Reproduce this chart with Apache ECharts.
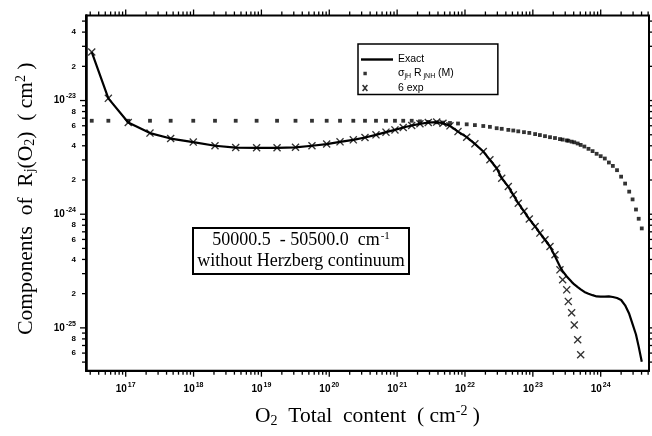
<!DOCTYPE html>
<html>
<head>
<meta charset="utf-8">
<script src="https://cdn.jsdelivr.net/npm/echarts@6/dist/echarts.min.js"></script>
<style>
  html, body { margin: 0; padding: 0; background: #fff; }
  #chart { width: 652px; height: 436px; }
</style>
</head>
<body>
<div id="chart"></div>
<script>
// O2 total column content (cm^-2) shared by the three curves
const columnDensity = [
  3.16e16, 5.55e16, 1.09e17, 2.28e17, 4.60e17, 9.90e17, 2.07e18, 4.18e18, 8.50e18, 1.70e19,
  3.18e19, 5.56e19, 9.16e19, 1.44e20, 2.26e20, 3.36e20, 4.88e20, 6.85e20, 9.29e20, 1.23e21,
  1.64e21, 2.17e21, 2.88e21, 3.83e21, 4.74e21, 6.01e21, 7.89e21, 1.06e22, 1.40e22, 1.86e22,
  2.33e22, 2.93e22, 3.48e22, 4.35e22, 5.15e22, 6.10e22, 7.40e22, 8.87e22, 1.08e23, 1.27e23,
  1.51e23, 1.79e23, 2.12e23, 2.51e23, 2.75e23, 3.16e23, 3.33e23, 3.73e23, 4.08e23, 4.58e23,
  5.07e23, 5.75e23, 6.61e23, 7.59e23, 8.71e23, 1.00e24, 1.15e24, 1.32e24, 1.51e24, 1.74e24,
  2.00e24, 2.29e24, 2.63e24, 2.95e24, 3.31e24, 3.63e24, 4.03e24
];

// Exact R_j(O2) component (cm^2)
const exactValues = [
  2.67e-23, 1.045e-23, 6.41e-24, 5.17e-24, 4.63e-24, 4.31e-24, 4.00e-24, 3.86e-24, 3.84e-24, 3.84e-24,
  3.88e-24, 4.00e-24, 4.14e-24, 4.33e-24, 4.51e-24, 4.73e-24, 4.99e-24, 5.27e-24, 5.52e-24, 5.79e-24,
  6.03e-24, 6.24e-24, 6.41e-24, 6.46e-24, 6.31e-24, 5.99e-24, 5.33e-24, 4.76e-24, 4.16e-24, 3.56e-24,
  3.01e-24, 2.54e-24, 2.07e-24, 1.75e-24, 1.48e-24, 1.25e-24, 1.06e-24, 9.06e-25, 7.80e-25, 6.82e-25,
  5.96e-25, 5.20e-25, 4.27e-25, 3.47e-25, 3.16e-25, 2.83e-25, 2.72e-25, 2.54e-25, 2.41e-25, 2.28e-25,
  2.18e-25, 2.07e-25, 2.00e-25, 1.94e-25, 1.89e-25, 1.88e-25, 1.88e-25, 1.89e-25, 1.87e-25, 1.83e-25,
  1.76e-25, 1.58e-25, 1.33e-25, 1.08e-25, 8.75e-26, 6.84e-26, 5.04e-26
];

// sigma_jH * R_jNH (M) approximation
const sigmaRValues = [
  6.64e-24, 6.64e-24, 6.64e-24, 6.64e-24, 6.64e-24, 6.64e-24, 6.64e-24, 6.64e-24, 6.64e-24, 6.64e-24,
  6.64e-24, 6.64e-24, 6.64e-24, 6.64e-24, 6.64e-24, 6.64e-24, 6.64e-24, 6.64e-24, 6.64e-24, 6.64e-24,
  6.64e-24, 6.56e-24, 6.49e-24, 6.44e-24, 6.40e-24, 6.35e-24, 6.28e-24, 6.18e-24, 6.08e-24, 5.97e-24,
  5.87e-24, 5.71e-24, 5.64e-24, 5.52e-24, 5.45e-24, 5.36e-24, 5.27e-24, 5.19e-24, 5.07e-24, 4.97e-24,
  4.86e-24, 4.76e-24, 4.68e-24, 4.58e-24, 4.53e-24, 4.46e-24, 4.43e-24, 4.35e-24, 4.29e-24, 4.19e-24,
  4.07e-24, 3.94e-24, 3.76e-24, 3.59e-24, 3.40e-24, 3.24e-24, 3.09e-24, 2.85e-24, 2.66e-24, 2.44e-24,
  2.14e-24, 1.86e-24, 1.58e-24, 1.35e-24, 1.10e-24, 9.12e-25, 7.50e-25
];

// Six-term exponential fit
const sixExpValues = [
  2.67e-23, 1.045e-23, 6.41e-24, 5.17e-24, 4.63e-24, 4.31e-24, 4.00e-24, 3.86e-24, 3.84e-24, 3.84e-24,
  3.88e-24, 4.00e-24, 4.14e-24, 4.33e-24, 4.51e-24, 4.73e-24, 4.99e-24, 5.27e-24, 5.52e-24, 5.79e-24,
  6.03e-24, 6.24e-24, 6.41e-24, 6.46e-24, 6.31e-24, 5.99e-24, 5.33e-24, 4.76e-24, 4.16e-24, 3.56e-24,
  3.01e-24, 2.54e-24, 2.07e-24, 1.75e-24, 1.48e-24, 1.25e-24, 1.06e-24, 9.06e-25, 7.80e-25, 6.82e-25,
  5.96e-25, 5.20e-25, 4.40e-25, 3.24e-25, 2.65e-25, 2.16e-25, 1.71e-25, 1.36e-25, 1.06e-25, 7.86e-26,
  5.80e-26, null, null, null, null, null, null, null, null, null,
  null, null, null, null, null, null, null
];

// Axis ranges and tick layout (decades and the labelled sub-decade multiples)
const xRange = [2.6e16, 5.15e24];
const yRange = [4.2e-26, 5.6e-23];
const xDecades = [16, 17, 18, 19, 20, 21, 22, 23, 24];
const yDecades = [-26, -25, -24, -23];
const tickMultiples = [1, 2, 3, 4, 5, 6, 7, 8, 9];
const yLabelledMultiples = [2, 4, 6, 8];

const SERIF = '"Liberation Serif", "Times New Roman", serif';
const SANS = '"Liberation Sans", Arial, sans-serif';
const SIGMA_NAME = 'σjH RjNH (M)';

// Tick records: [x, y, axis (0 = x, 1 = y), length, label digit]
const tickData = [];
xDecades.forEach(d => tickMultiples.forEach(m => {
  const v = m * Math.pow(10, d);
  if (v >= xRange[0] && v <= xRange[1]) tickData.push([v, yRange[0], 0, m === 1 ? 6 : 4, 0]);
}));
yDecades.forEach(d => tickMultiples.forEach(m => {
  const v = m * Math.pow(10, d);
  if (v >= yRange[0] && v <= yRange[1]) {
    tickData.push([xRange[0], v, 1, m === 1 ? 6 : 4, yLabelledMultiples.indexOf(m) >= 0 ? m : 0]);
  }
}));

function isPowerOfTen(v) {
  const l = Math.log10(v);
  return Math.abs(l - Math.round(l)) < 1e-6;
}
function powerLabel(v) {
  if (!isPowerOfTen(v)) return '';
  return '{b|10}{e|' + Math.round(Math.log10(v)) + '}';
}

const tickLabelRich = {
  b: { fontFamily: SANS, fontWeight: 'bold', fontSize: 10, color: '#000' },
  e: { fontFamily: SANS, fontWeight: 'bold', fontSize: 7, color: '#000', padding: [0, 0, 8, 1] }
};

const titleRich = {
  t: { fontFamily: SERIF, fontSize: 21.5, color: '#000' },
  s: { fontFamily: SERIF, fontSize: 14, color: '#000', padding: [9, 0, 0, 0] },
  p: { fontFamily: SERIF, fontSize: 14, color: '#000', padding: [0, 0, 10, 0] }
};

const crossPath = 'path://M0,1.2L1.2,0L5,3.8L8.8,0L10,1.2L6.2,5L10,8.8L8.8,10L5,6.2L1.2,10L0,8.8L3.8,5Z';

const chart = echarts.init(document.getElementById('chart'));

chart.setOption({
  animation: false,
  backgroundColor: '#fff',
  grid: {
    left: 86, top: 15.5, right: 3, bottom: 65.3,
    show: true, borderColor: '#000', borderWidth: 2, backgroundColor: 'transparent'
  },
  xAxis: {
    type: 'log',
    logBase: 10,
    min: xRange[0],
    max: xRange[1],
    splitLine: { show: false },
    axisTick: { show: false },
    axisLine: { show: true, lineStyle: { color: '#000', width: 2 } },
    axisLabel: { margin: 11, formatter: powerLabel, rich: tickLabelRich, showMinLabel: false, showMaxLabel: false },
    name: '{t|O}{s|2}{t|  Total  content  ( cm}{p|-2}{t| )}',
    nameLocation: 'middle',
    nameGap: 34,
    nameTextStyle: { rich: titleRich }
  },
  yAxis: {
    type: 'log',
    logBase: 10,
    min: yRange[0],
    max: yRange[1],
    splitLine: { show: false },
    axisTick: { show: false },
    axisLine: { show: true, lineStyle: { color: '#000', width: 2.5 } },
    axisLabel: { margin: 10, formatter: powerLabel, rich: tickLabelRich, showMinLabel: false, showMaxLabel: false },
    name: '{t|Components  of  R}{s|j}{t|(O}{s|2}{t|)  ( cm}{p|2}{t| )}',
    nameLocation: 'middle',
    nameGap: 48,
    nameTextStyle: { padding: [0, 11, 0, 0], rich: titleRich }
  },
  legend: {
    orient: 'vertical',
    left: 358,
    top: 44,
    padding: [10, 44, 1, 3],
    itemGap: 3,
    itemWidth: 32,
    itemHeight: 10,
    backgroundColor: '#fff',
    borderColor: '#000',
    borderWidth: 1.5,
    borderRadius: 0,
    selectedMode: false,
    data: [
      { name: 'Exact', icon: 'path://M0,4h32v2.4h-32z' },
      { name: SIGMA_NAME, icon: 'path://M0,0h.01v.01h-.01zM31.99,9.99h.01v.01h-.01zM2.4,3.3h3.4v3.4h-3.4z' },
      { name: '6 exp', icon: 'path://M0,0h.01v.01h-.01zM31.99,9.99h.01v.01h-.01zM1,2.5L2.2,1.5L4,3.6L5.8,1.5L7,2.5L4.9,5L7,7.5L5.8,8.5L4,6.4L2.2,8.5L1,7.5L3.1,5Z' }
    ],
    formatter: name => name === SIGMA_NAME
      ? '{t|σ}{s|jH}{t| R}{s| jNH}{t| (M)}'
      : '{t|' + name + '}',
    textStyle: {
      rich: {
        t: { fontFamily: SANS, fontSize: 10.5, color: '#000', lineHeight: 14 },
        s: { fontFamily: SANS, fontSize: 7, color: '#000', padding: [5, 0, 0, 0] }
      }
    }
  },
  graphic: [{
    type: 'group',
    left: 192,
    top: 227,
    children: [
      {
        type: 'rect',
        shape: { x: 0, y: 0, width: 216, height: 46 },
        style: { fill: '#fff', stroke: '#000', lineWidth: 2 }
      },
      {
        type: 'text',
        x: 108,
        y: 23,
        style: {
          text: '{t|50000.5  - 50500.0  cm}{p|-1}\n{t|without Herzberg continuum}',
          align: 'center',
          verticalAlign: 'middle',
          rich: {
            t: { fontFamily: SERIF, fontSize: 18, fill: '#000', lineHeight: 21 },
            p: { fontFamily: SERIF, fontSize: 11, fill: '#000', padding: [0, 0, 9, 1] }
          }
        }
      }
    ]
  }],
  series: [
    {
      name: 'Exact',
      type: 'line',
      data: columnDensity.map((x, i) => [x, exactValues[i]]),
      showSymbol: false,
      symbol: 'none',
      lineStyle: { color: '#000', width: 2.2 },
      itemStyle: { color: '#000' },
      z: 2
    },
    {
      name: '6 exp',
      type: 'scatter',
      data: columnDensity.map((x, i) => [x, sixExpValues[i]]).filter(p => p[1] != null),
      symbol: crossPath,
      symbolSize: 8,
      itemStyle: { color: '#000' },
      z: 3
    },
    {
      name: SIGMA_NAME,
      type: 'scatter',
      data: columnDensity.map((x, i) => [x, sigmaRValues[i]]),
      symbol: 'rect',
      symbolSize: 3.8,
      itemStyle: { color: '#000' },
      z: 4
    },
    {
      // axis ticks on all four sides, plus the 2/4/6/8 sub-decade labels
      type: 'custom',
      silent: true,
      clip: false,
      z: 10,
      encode: { x: 0, y: 1 },
      data: tickData,
      renderItem: function (params, api) {
        const cs = params.coordSys;
        const axis = api.value(2);
        const len = api.value(3);
        const digit = api.value(4);
        const style = { stroke: '#000', lineWidth: 1.3 };
        if (axis === 0) {
          const x = api.coord([api.value(0), yRange[0]])[0];
          const top = cs.y, bottom = cs.y + cs.height;
          return {
            type: 'group',
            children: [
              { type: 'line', shape: { x1: x, y1: bottom, x2: x, y2: bottom + len }, style },
              { type: 'line', shape: { x1: x, y1: top, x2: x, y2: top - len }, style }
            ]
          };
        }
        const y = api.coord([xRange[0], api.value(1)])[1];
        const left = cs.x, right = cs.x + cs.width;
        const children = [
          { type: 'line', shape: { x1: left, y1: y, x2: left - len, y2: y }, style },
          { type: 'line', shape: { x1: right, y1: y, x2: right + len, y2: y }, style }
        ];
        if (digit) {
          children.push({
            type: 'text',
            x: left - 10,
            y: y,
            style: {
              text: String(digit),
              align: 'right',
              verticalAlign: 'middle',
              font: 'bold 8px ' + SANS,
              fill: '#000'
            }
          });
        }
        return { type: 'group', children };
      }
    }
  ]
});
</script>
</body>
</html>
